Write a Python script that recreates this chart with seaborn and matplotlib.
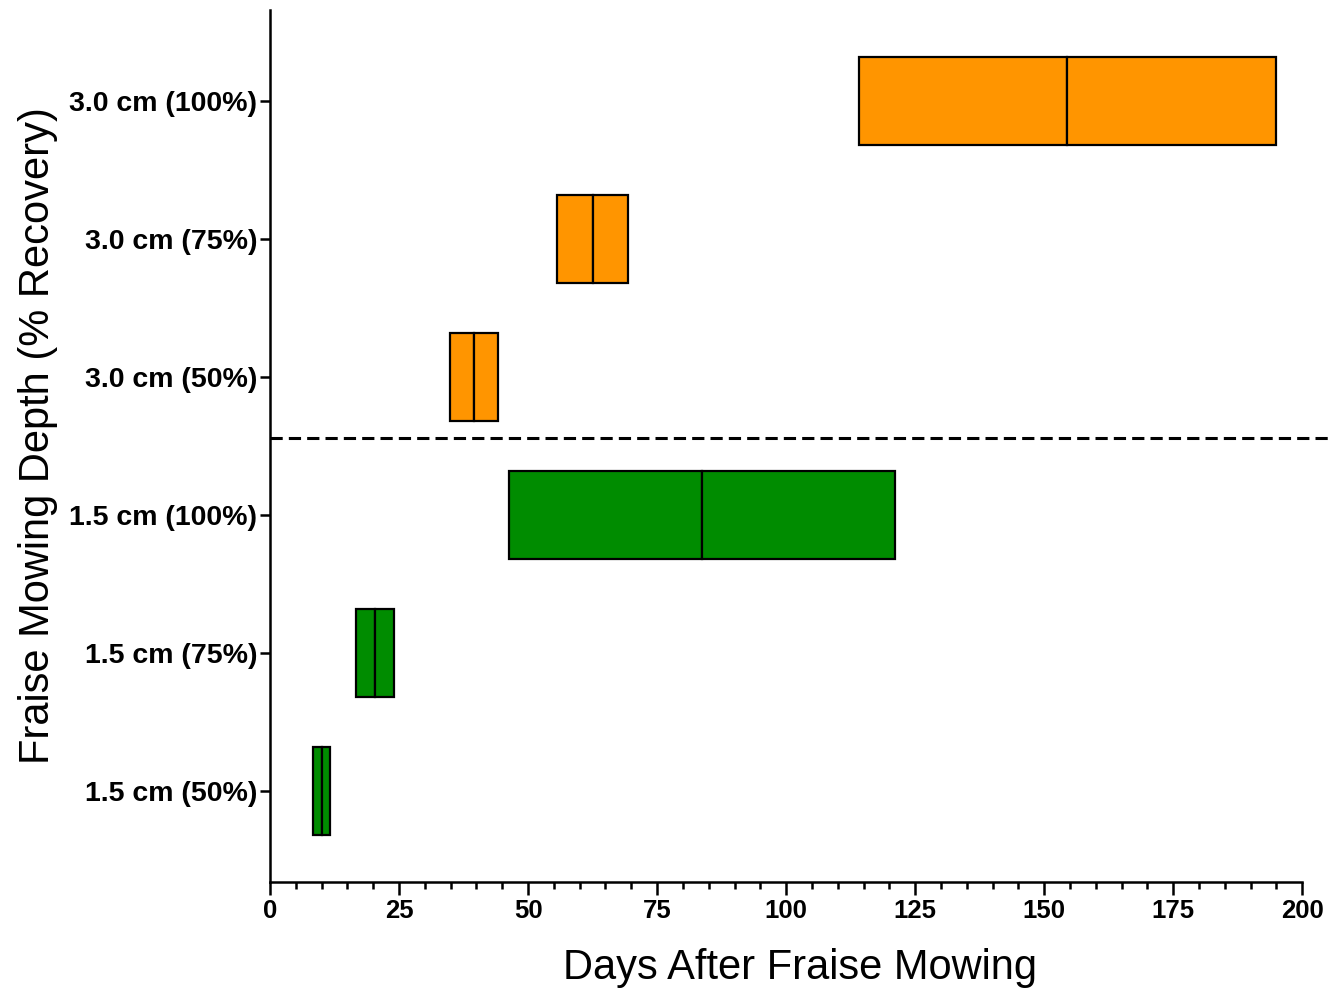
import matplotlib
matplotlib.use("Agg")
import matplotlib.pyplot as plt
from matplotlib.ticker import MultipleLocator
import seaborn as sns

# recovery windows (days after fraise mowing), bottom to top
labels = ["1.5 cm (50%)", "1.5 cm (75%)", "1.5 cm (100%)",
          "3.0 cm (50%)", "3.0 cm (75%)", "3.0 cm (100%)"]
low = [8.3, 16.7, 46.3, 34.9, 55.6, 114.1]
median = [10.1, 20.3, 83.7, 39.5, 62.6, 154.5]
high = [11.6, 24.0, 121.1, 44.2, 69.4, 195.0]
depth = ["1.5", "1.5", "1.5", "3.0", "3.0", "3.0"]

palette = {"1.5": "#008C00", "3.0": "#FF9500"}

sns.set_style("ticks")
plt.rcParams['font.family'] = ['Liberation Sans', 'DejaVu Sans']
plt.rcParams['text.color'] = 'black'
plt.rcParams['axes.labelcolor'] = 'black'
plt.rcParams['xtick.color'] = 'black'
plt.rcParams['ytick.color'] = 'black'
plt.rcParams['axes.edgecolor'] = 'black'

fig = plt.figure(figsize=(13.32, 9.89), dpi=100)
ax = fig.add_axes([0.2027, 0.1082, 0.775, 0.8817])

pos = list(range(len(labels)))
colors = [palette[d] for d in depth]
# box from low to median, then median to high
ax.barh(pos, [m - l for m, l in zip(median, low)], left=low, height=0.64,
        color=colors, edgecolor="black", linewidth=1.6, zorder=3)
ax.barh(pos, [h - m for h, m in zip(high, median)], left=median, height=0.64,
        color=colors, edgecolor="black", linewidth=1.6, zorder=3)

# separator between the two depths
ax.plot([0, 206], [2.56, 2.56], color="black", linestyle=(0, (4, 2)),
        linewidth=2.2, clip_on=False, zorder=4)

ax.set_xlim(0, 200)
ax.set_ylim(-0.66, 5.66)
ax.set_yticks(pos)
ax.set_yticklabels(labels, fontsize=20.5, fontweight="bold")
ax.xaxis.set_major_locator(MultipleLocator(25))
ax.xaxis.set_minor_locator(MultipleLocator(5))
for lbl in ax.get_xticklabels():
    lbl.set_fontweight("bold")
ax.tick_params(axis="x", which="major", labelsize=18.5, length=9, width=1.8)
ax.tick_params(axis="x", which="minor", length=5, width=1.8)
ax.tick_params(axis="y", length=7, width=1.8, pad=2)

ax.set_xlabel("Days After Fraise Mowing", fontsize=30, labelpad=18)
ax.set_ylabel("Fraise Mowing Depth (% Recovery)", fontsize=30, labelpad=8)
ax.xaxis.label.set_x(0.513)
ax.yaxis.label.set_y(0.512)

sns.despine(ax=ax)
for side in ["left", "bottom"]:
    ax.spines[side].set_linewidth(1.8)

fig.savefig("out.png", dpi=100)
